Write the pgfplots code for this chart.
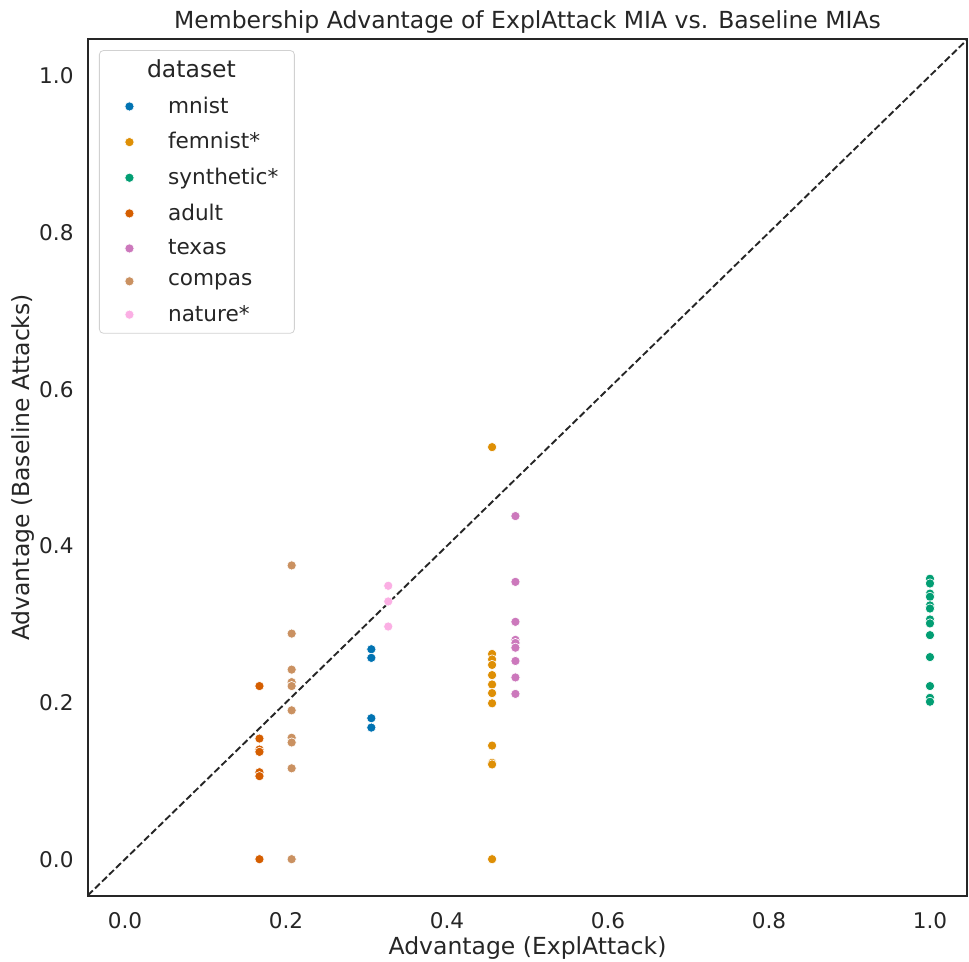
\documentclass[border=0pt]{standalone}
\usepackage{pgfplots}
\pgfplotsset{compat=1.18}
\usepackage{fontspec}
\setmainfont{DejaVu Sans}

\definecolor{txt}{HTML}{262626}
\definecolor{cMnist}{HTML}{0173B2}
\definecolor{cFemnist}{HTML}{DE8F05}
\definecolor{cSynth}{HTML}{029E73}
\definecolor{cAdult}{HTML}{D55E00}
\definecolor{cTexas}{HTML}{CC78BC}
\definecolor{cCompas}{HTML}{CA9161}
\definecolor{cNature}{HTML}{FBAFE4}

\newcommand{\smallfnt}{\fontsize{10.8}{13}\selectfont}
\newcommand{\bigfnt}{\fontsize{11.75}{14.1}\selectfont}

\pgfplotsset{
  dot/.style={only marks, mark=*, mark size=2.3pt,
    mark options={draw=white, line width=0.3pt, fill=#1}},
}

\begin{document}
\smallfnt
\begin{tikzpicture}
\begin{axis}[
  name=ax,
  scale only axis,
  width=439.5pt, height=428.5pt,
  xmin=-0.046, xmax=1.046, ymin=-0.047, ymax=1.047,
  xtick={0,0.2,0.4,0.6,0.8,1.0},
  ytick={0,0.2,0.4,0.6,0.8,1.0},
  /pgf/number format/fixed,
  /pgf/number format/fixed zerofill,
  /pgf/number format/precision=1,
  /pgf/number format/assume math mode=true,
  tick style={draw=none},
  axis line style={draw=txt, line width=0.85pt},
  tick label style={font=\smallfnt, text=txt},
  xticklabel style={anchor=base, yshift=-16pt},
  yticklabel style={anchor=east, xshift=-3.4pt},
  label style={font=\bigfnt, text=txt},
  title style={font=\bigfnt, text=txt,
    at={(axis description cs:0.5,1)}, anchor=base, yshift=-1pt},
  title={Membership Advantage of ExplAttack MIA vs. Baseline MIAs},
  xlabel={Advantage (ExplAttack)},
  ylabel={Advantage (Baseline Attacks)},
  xlabel style={at={(axis description cs:0.5,0)}, anchor=base, yshift=-29pt},
  ylabel style={at={([xshift=-29.3pt]axis description cs:0,0.5)},
    rotate=0, anchor=base},
  legend style={at={(0.0125,0.987)}, anchor=north west,
    draw=black!18, rounded corners=2pt, fill=white,
    font=\smallfnt, text=txt,
    row sep=5pt, inner xsep=6.5pt, inner ysep=3pt,
    nodes={inner sep=1.5pt}},
  legend cell align=left,
]
% reference diagonal y = x
\addplot[forget plot, txt, line width=0.95pt,
  dash pattern=on 3.4pt off 1.5pt]
  coordinates {(-0.046,-0.046) (1.046,1.046)};

\addlegendimage{empty legend}
\addlegendentry{\hspace{5pt}\bigfnt dataset}

\addplot[dot=cMnist] coordinates {
  (0.306,0.268) (0.306,0.257) (0.306,0.180) (0.306,0.168)};
\addlegendentry{\hspace{15.5pt}mnist}

\addplot[dot=cFemnist] coordinates {
  (0.456,0.526) (0.456,0.262) (0.456,0.255) (0.456,0.248) (0.456,0.235)
  (0.456,0.223) (0.456,0.212) (0.456,0.199) (0.456,0.145) (0.456,0.123)
  (0.456,0.121) (0.456,0.0)};
\addlegendentry{\hspace{15.5pt}femnist*}

\addplot[dot=cSynth] coordinates {
  (1.0,0.358) (1.0,0.352) (1.0,0.339) (1.0,0.335) (1.0,0.324)
  (1.0,0.320) (1.0,0.306) (1.0,0.301) (1.0,0.286) (1.0,0.258)
  (1.0,0.221) (1.0,0.206) (1.0,0.201)};
\addlegendentry{\hspace{15.5pt}synthetic*\hspace{0.5pt}}

\addplot[dot=cAdult] coordinates {
  (0.167,0.221) (0.167,0.154) (0.167,0.140) (0.167,0.137)
  (0.167,0.111) (0.167,0.106) (0.167,0.0)};
\addlegendentry{\hspace{15.5pt}adult}

\addplot[dot=cTexas] coordinates {
  (0.485,0.438) (0.485,0.354) (0.485,0.303) (0.485,0.280) (0.485,0.276)
  (0.485,0.270) (0.485,0.253) (0.485,0.232) (0.485,0.211)};
\addlegendentry{\hspace{15.5pt}texas}

\addplot[dot=cCompas] coordinates {
  (0.207,0.375) (0.207,0.288) (0.207,0.242) (0.207,0.226) (0.207,0.221)
  (0.207,0.190) (0.207,0.155) (0.207,0.149) (0.207,0.116) (0.207,0.0)};
\addlegendentry{\hspace{15.5pt}compas}

\addplot[dot=cNature] coordinates {
  (0.327,0.349) (0.327,0.329) (0.327,0.297)};
\addlegendentry{\hspace{15.5pt}nature*}
\end{axis}
% page frame around the axis and its labels
\pgfresetboundingbox
\useasboundingbox ([shift={(-44pt,-32.5pt)}]ax.south west)
  rectangle ([shift={(1pt,19.5pt)}]ax.north east);
\end{tikzpicture}
\end{document}
